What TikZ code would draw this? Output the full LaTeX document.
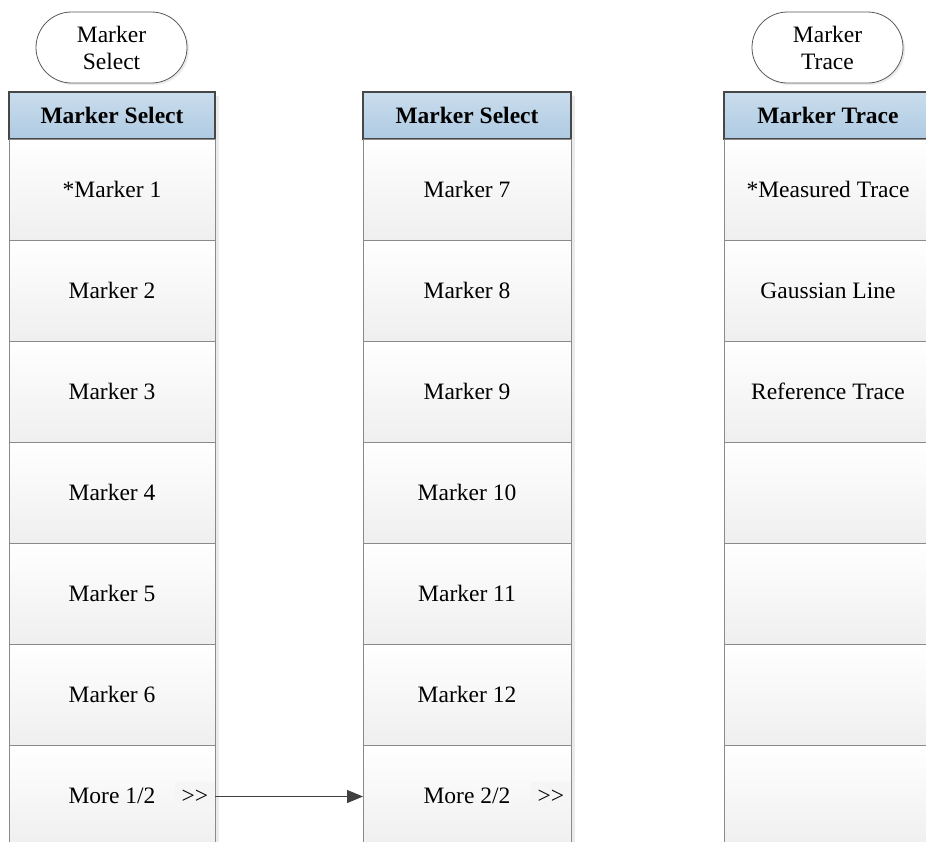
\documentclass[tikz,border=0pt]{standalone}
\usepackage{fontspec}
\setmainfont{Liberation Serif}
\usetikzlibrary{positioning,shapes.misc,arrows.meta,shadows}

\definecolor{headtop}{HTML}{CADDED}
\definecolor{headbot}{HTML}{AECAE2}
\definecolor{keybot}{HTML}{EFEFEF}
\definecolor{keyline}{HTML}{8A8A8A}

\newcommand\keyfont{\fontsize{23.5}{27}\selectfont}

\tikzset{
  keyhead/.style={rectangle, draw=black!72, line width=1.6pt, top color=headtop,
    bottom color=headbot, minimum height=47pt, inner sep=0pt, outer sep=0pt,
    font=\keyfont\bfseries},
  softkey/.style={rectangle, draw=keyline, line width=1pt, top color=white,
    bottom color=keybot, minimum height=101pt, inner sep=0pt, outer sep=0pt},
  bubble/.style={rounded rectangle, draw=black!65, line width=0.8pt, fill=white,
    minimum width=151pt, minimum height=71pt, align=center, inner sep=0pt,
    drop shadow={shadow xshift=2pt, shadow yshift=-2pt, fill=black!15}},
  nextpage/.style={rectangle, fill=black!4, minimum width=40pt, minimum height=30pt,
    inner sep=0pt, anchor=east},
}

\begin{document}
\begin{tikzpicture}[x=1pt,y=-1pt,font=\keyfont]
\useasboundingbox (0,0) rectangle (926,841);
\clip (0,0) rectangle (926,841);
\fill[white] (0,0) rectangle (926,841);

% shadows of the menus
\fill[black!8] (13,96) rectangle (219,846);
\fill[black!8] (367,96) rectangle (575,846);

\node[bubble] (b1) at (111.5,47.5) {Marker\\Select};
\node[bubble] (b3) at (827.5,47.5) {Marker\\Trace};

% first page
\node[keyhead, minimum width=206pt, anchor=north west] (a0) at (9,92) {Marker Select};
\foreach \t [count=\i, remember=\i as \j (initially 0)] in
  {*Marker 1, Marker 2, Marker 3, Marker 4, Marker 5, Marker 6, More 1/2}
  \node[softkey, minimum width=206pt, below=0pt of a\j] (a\i) {\t};

% second page
\node[keyhead, minimum width=208pt, anchor=north west] (m0) at (363,92) {Marker Select};
\foreach \t [count=\i, remember=\i as \j (initially 0)] in
  {Marker 7, Marker 8, Marker 9, Marker 10, Marker 11, Marker 12, More 2/2}
  \node[softkey, minimum width=208pt, below=0pt of m\j] (m\i) {\t};

% trace menu
\node[keyhead, minimum width=208pt, anchor=north west] (t0) at (724,92) {Marker Trace};
\foreach \t [count=\i, remember=\i as \j (initially 0)] in
  {*Measured Trace, Gaussian Line, Reference Trace, , , , }
  \node[softkey, minimum width=208pt, below=0pt of t\j] (t\i) {\t};

\node[nextpage] (more1) at ([yshift=-1pt]a7.east) {{>}{>}};
\node[nextpage] (more2) at ([yshift=-1pt]m7.east) {{>}{>}};

\draw[draw=black!75, line width=1pt, -{Triangle[length=16pt,width=13pt]}]
  (more1.east) -- (more1.east -| m7.west);
\end{tikzpicture}
\end{document}
